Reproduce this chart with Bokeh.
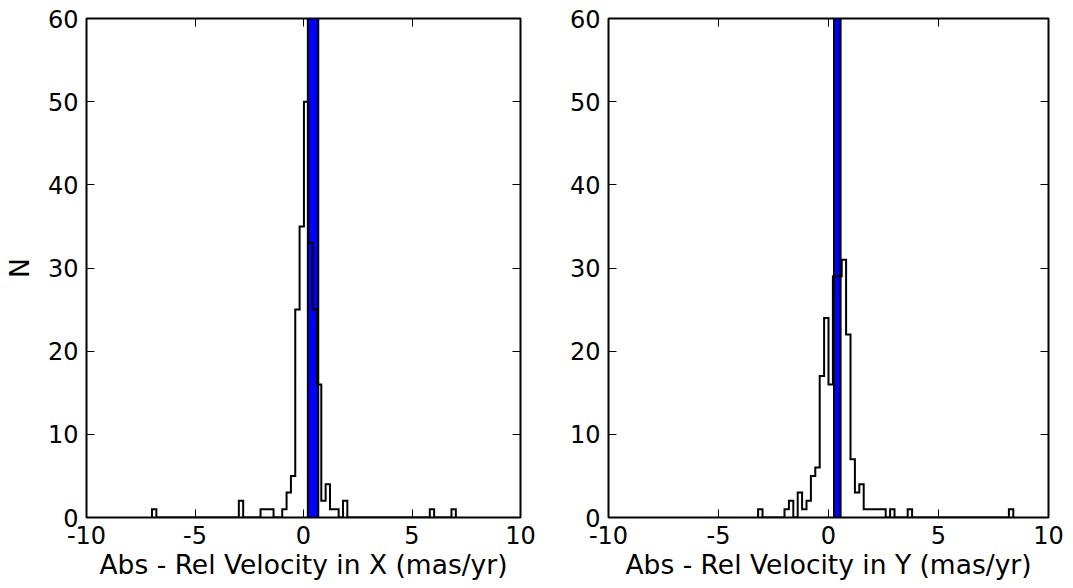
from bokeh.plotting import figure
from bokeh.layouts import row
from bokeh.models import LinearAxis, BoxAnnotation, FixedTicker, CustomJSTickFormatter, Range1d
from bokeh.embed import file_html
from bokeh.resources import INLINE

# ---------------- data ----------------
bin_width = 0.2
# X velocity difference histogram: counts per 0.2-wide bin, first bin starts at -6.98
x_first_edge = -6.98
x_counts = [1, 0, 0, 0, 0, 0, 0, 0, 0, 0, 0, 0, 0, 0, 0, 0, 0, 0, 0, 0,
            2, 0, 0, 0, 0, 1, 1, 1, 0, 0,
            1, 3, 5, 25, 35, 50, 33, 25, 16, 2,
            4, 1, 1, 0, 2, 0, 0, 0, 0, 0,
            0, 0, 0, 0, 0, 0, 0, 0, 0, 0,
            0, 0, 0, 0, 1, 0, 0, 0, 0, 1]
# Y velocity difference histogram: first bin starts at -3.2
y_first_edge = -3.2
y_counts = [1, 0, 0, 0, 0, 0, 1, 2, 0, 3,
            1, 2, 5, 6, 17, 24, 16, 29, 29, 31,
            22, 7, 3, 4, 1, 1, 1, 1, 1, 0,
            1, 0, 0, 0, 1, 0, 0, 0, 0, 0,
            0, 0, 0, 0, 0, 0, 0, 0, 0, 0,
            0, 0, 0, 0, 0, 0, 0, 1]
x_band = [0.20, 0.68]
y_band = [0.25, 0.55]
x_ticks = [-10, -5, 0, 5, 10]
y_ticks = [0, 10, 20, 30, 40, 50, 60]
x_labels = ["Abs - Rel Velocity in X (mas/yr)", "Abs - Rel Velocity in Y (mas/yr)"]
y_label = "N"

FONT = "DejaVu Sans"
TICK_SIZE = "24px"
LABEL_SIZE = "26.5px"


def step_path(first_edge, counts):
    edges = [first_edge + bin_width * i for i in range(len(counts) + 1)]
    xs = [edges[0]]
    ys = [0]
    for i, c in enumerate(counts):
        xs += [edges[i], edges[i + 1]]
        ys += [c, c]
    xs.append(edges[-1])
    ys.append(0)
    return xs, ys


def style_axis(ax, show_labels=True):
    ax.axis_line_color = None
    ax.major_tick_in = 8
    ax.major_tick_out = 0
    ax.major_tick_line_color = "black"
    ax.major_tick_line_width = 1
    ax.minor_tick_line_color = None
    ax.major_label_text_font = FONT
    ax.major_label_text_font_size = TICK_SIZE
    ax.major_label_text_color = "black"
    ax.axis_label_text_font = FONT
    ax.axis_label_text_font_size = LABEL_SIZE
    ax.axis_label_text_font_style = "normal"
    ax.axis_label_text_color = "black"
    if show_labels:
        ax.major_label_standoff = 8
        ax.formatter = CustomJSTickFormatter(code="return tick.toString()")
    else:
        ax.major_label_standoff = 0
        ax.axis_label_standoff = 0
        ax.formatter = CustomJSTickFormatter(code="return ''")


def make_fig(counts, first_edge, band, xlabel, ylabel, border_left, border_right):
    fw, fh = 440, 499
    bt, bb = 18, 71
    p = figure(width=border_left + fw + border_right, height=bt + fh + bb,
               x_range=Range1d(-10, 10), y_range=Range1d(0, 60),
               output_backend="svg", toolbar_location=None,
               min_border_left=border_left, min_border_right=border_right,
               min_border_top=bt, min_border_bottom=bb)
    p.xgrid.visible = False
    p.ygrid.visible = False
    p.outline_line_color = "black"
    p.outline_line_width = 2
    p.outline_line_alpha = 1.0
    p.background_fill_color = "white"
    p.border_fill_color = "white"

    bottom = p.below[0]
    left = p.left[0]
    top = LinearAxis()
    right = LinearAxis()
    p.add_layout(top, "above")
    p.add_layout(right, "right")

    for ax in (bottom, top):
        ax.ticker = FixedTicker(ticks=x_ticks)
    for ax in (left, right):
        ax.ticker = FixedTicker(ticks=y_ticks)

    style_axis(bottom)
    style_axis(left)
    style_axis(top, False)
    style_axis(right, False)

    bottom.axis_label = xlabel
    bottom.axis_label_standoff = 2
    if ylabel:
        left.axis_label = ylabel
        left.axis_label_standoff = 10

    p.add_layout(BoxAnnotation(left=band[0], right=band[1], fill_color="#0000ff", fill_alpha=1.0,
                               line_color="black", line_width=2, line_alpha=1.0, level="underlay"))

    xs, ys = step_path(first_edge, counts)
    p.line(xs, ys, line_color="black", line_width=2, line_join="miter")
    return p


p1 = make_fig(x_counts, x_first_edge, x_band, x_labels[0], y_label, 80, 40)
p2 = make_fig(y_counts, y_first_edge, y_band, x_labels[1], None, 48, 25)

layout = row(p1, p2, spacing=0)
open("out.html", "w").write(file_html(layout, INLINE))
